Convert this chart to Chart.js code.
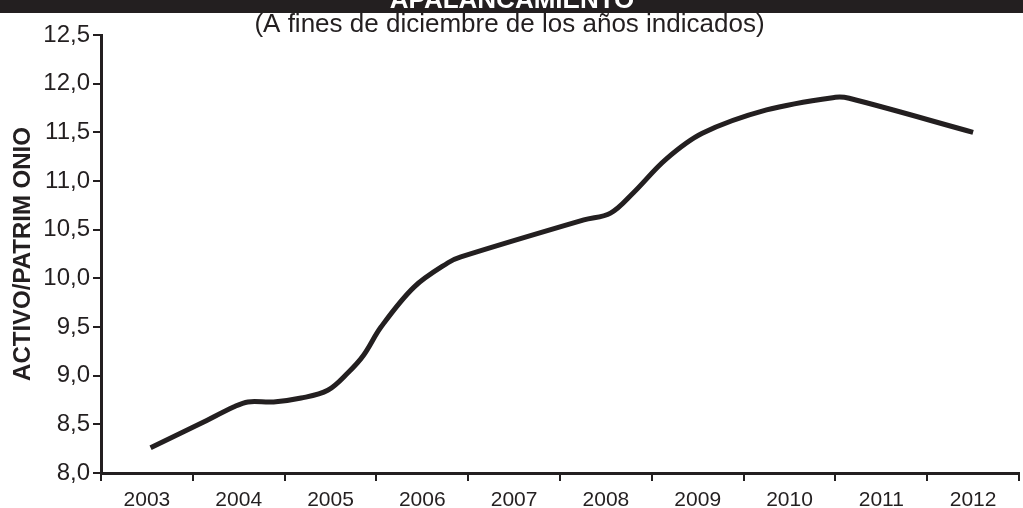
<!DOCTYPE html>
<html>
<head>
<meta charset="utf-8">
<script src="https://cdn.jsdelivr.net/npm/chart.js@4/dist/chart.umd.min.js"></script>
<style>
  body { margin: 0; background: #fff; }
  #wrap { width: 1023px; height: 508px; position: relative; }
</style>
</head>
<body>
<div id="wrap"><canvas id="leverageChart"></canvas></div>
<script>
    // Years on the axis
    var years = ['2003', '2004', '2005', '2006', '2007', '2008', '2009', '2010', '2011', '2012'];

    // Leverage curve: position in years and activo/patrimonio ratio
    var curveYears = [2003.04, 2003.59, 2003.95, 2004.1, 2004.38, 2004.68, 2004.97, 2005.19, 2005.36, 2005.55,
                      2005.91, 2006.28, 2006.42, 2007.76, 2008.05, 2008.3, 2008.65, 2009.05, 2009.75, 2010.5,
                      2010.65, 2012.0];
    var leverage = [8.26, 8.51, 8.68, 8.73, 8.73, 8.77, 8.85, 9.03, 9.21, 9.50,
                    9.91, 10.16, 10.22, 10.60, 10.67, 10.88, 11.22, 11.49, 11.73, 11.86,
                    11.85, 11.50];

    // Y axis range
    var yTicks = [8.0, 8.5, 9.0, 9.5, 10.0, 10.5, 11.0, 11.5, 12.0, 12.5];

    var ink = '#231f20';
    var points = curveYears.map(function (x, i) { return { x: x, y: leverage[i] }; });

    // Black banner with the main heading
    var banner = {
        id: 'banner',
        afterDraw: function (chart) {
            var ctx = chart.ctx;
            ctx.save();
            ctx.fillStyle = ink;
            ctx.fillRect(0, 0, chart.width, 13);
            ctx.fillStyle = '#fff';
            ctx.font = 'bold 26px "Liberation Sans", Arial, sans-serif';
            ctx.textAlign = 'center';
            ctx.textBaseline = 'alphabetic';
            ctx.fillText('APALANCAMIENTO', 512, 8);
            ctx.restore();
        }
    };

    var ctxLev = document.getElementById('leverageChart').getContext('2d');
    new Chart(ctxLev, {
        type: 'line',
        data: {
            labels: years,
            datasets: [{
                label: 'Activo/Patrimonio',
                data: points,
                xAxisID: 'xl',
                borderColor: ink,
                borderWidth: 5,
                pointRadius: 0,
                fill: false,
                tension: 0.35
            }]
        },
        options: {
            responsive: true,
            maintainAspectRatio: false,
            animation: false,
            layout: { padding: { left: 0, right: 4, top: 0, bottom: 0 } },
            plugins: {
                legend: { display: false },
                tooltip: { enabled: false },
                title: {
                    display: true,
                    text: '(A fines de diciembre de los años indicados)',
                    color: ink,
                    font: { family: '"Liberation Sans", Arial', size: 26, weight: 'normal', lineHeight: 1.0 },
                    padding: { top: 12, bottom: -3 }
                }
            },
            scales: {
                x: {
                    type: 'category',
                    offset: true,
                    grid: { offset: true, drawOnChartArea: false, color: ink, lineWidth: 2, tickLength: 8 },
                    border: { display: true, color: ink, width: 3 },
                    ticks: {
                        color: ink,
                        padding: 7,
                        maxRotation: 0,
                        font: { family: '"Liberation Sans", Arial', size: 21 }
                    },
                    afterFit: function (scale) { scale.height = 35; }
                },
                xl: {
                    type: 'linear',
                    display: false,
                    min: 2002.5,
                    max: 2012.5
                },
                y: {
                    min: yTicks[0],
                    max: yTicks[yTicks.length - 1],
                    afterBuildTicks: function (scale) {
                        scale.ticks = yTicks.map(function (v) { return { value: v }; });
                    },
                    grid: { drawOnChartArea: false, color: ink, lineWidth: 2, tickLength: 8 },
                    border: { display: true, color: ink, width: 3 },
                    ticks: {
                        color: ink,
                        padding: 3,
                        font: { family: '"Liberation Sans", Arial', size: 24 },
                        callback: function (v) { return Number(v).toFixed(1).replace('.', ','); }
                    },
                    title: {
                        display: true,
                        text: 'ACTIVO/PATRIM ONIO',
                        color: ink,
                        font: { family: '"Liberation Sans", Arial', size: 24, weight: 'bold' },
                        padding: { top: 9, bottom: 0 }
                    },
                    afterFit: function (scale) { scale.width = 101; }
                }
            }
        },
        plugins: [banner]
    });
</script>
</body>
</html>
